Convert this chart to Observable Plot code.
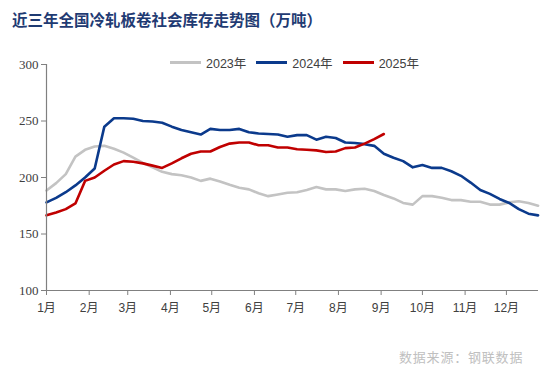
<!DOCTYPE html>
<html>
<head>
<meta charset="utf-8">
<script src="https://cdn.jsdelivr.net/npm/d3@7"></script>
<script src="https://cdn.jsdelivr.net/npm/@observablehq/plot@0.6"></script>
<style>
  body { margin: 0; background: #fff; }
  #wrap { position: relative; width: 550px; height: 370px; overflow: hidden; background: #fff; }
  #title { position: absolute; left: 12px; top: 10px; font-family: "Noto Sans CJK SC", sans-serif; font-weight: 700; font-size: 15.5px; line-height: 18px; color: #1f3b73; white-space: nowrap; }
  #legend { position: absolute; left: 170px; top: 53px; display: flex; align-items: center; font-family: "Liberation Sans", Arial, "Noto Sans CJK SC", sans-serif; font-size: 12.5px; color: #404040; white-space: nowrap; }
  .item { display: flex; align-items: center; margin-right: 10px; }
  .sw { width: 31px; height: 2.5px; margin-right: 5px; }
  #source { position: absolute; left: 399px; top: 347px; font-family: "Noto Sans CJK SC", sans-serif; font-size: 13px; color: #c0c0c0; white-space: nowrap; letter-spacing: 0.8px; }
  #chart { position: absolute; left: 0; top: 0; }
</style>
</head>
<body>
<div id="wrap">
  <div id="chart"></div>
  <div id="title">近三年全国冷轧板卷社会库存走势图（万吨）</div>
  <div id="legend"></div>
  <div id="source">数据来源：钢联数据</div>
</div>
<script>
const seriesNames = ["2023年", "2024年", "2025年"];
const seriesColors = ["#c3c3c3", "#0b3a8c", "#c00000"];

// weekly values (万吨), week 1 starting at the beginning of January
const v2023 = [188.5, 195, 203, 218.5, 224.5, 227.5, 228, 225.5, 222, 217.5, 213, 209, 205, 203,
  202, 200, 197, 199, 196.5, 193.5, 191, 189.5, 186, 183.5, 185, 186.5, 187, 189, 191.5, 189.5,
  189.5, 188, 189.5, 190, 188, 184.5, 181.5, 177.5, 176, 183.5, 183.5, 182, 180, 180, 178.5,
  178.5, 176, 176, 178, 179, 177.5, 175];
const v2024 = [178, 182, 187, 193, 200, 208, 245, 252.5, 252.5, 252, 250, 249.5, 248.5, 245,
  242, 240, 238, 243, 242, 242, 243, 240, 239, 238.5, 238, 236, 237.5, 237.5, 233.5, 236,
  235, 231, 230.5, 229.5, 228, 221, 217.5, 214.5, 209, 211, 208.5, 208.5, 205.5, 201.5, 195.5,
  189, 185.5, 181, 177.5, 172, 168, 166.5];
const v2025 = [166.5, 169, 172, 177, 197, 200, 206, 211.5, 214.5, 214, 212.5, 210.5, 208.5, 212.5,
  217, 221, 223, 223, 227, 230, 231, 231, 228.5, 228.5, 226.5, 226.5, 225, 224.5, 224, 222.5,
  223, 226, 226.5, 230, 234, 238.5];
const yTicks = [100, 150, 200, 250, 300];
const monthLabels = ["1月","2月","3月","4月","5月","6月","7月","8月","9月","10月","11月","12月"];

const DAY = 864e5;
const start = Date.UTC(2023, 0, 1);
const weekDate = i => new Date(start + i * 7 * DAY);
const rows = [];
[v2023, v2024, v2025].forEach((arr, s) =>
  arr.forEach((v, i) => rows.push({ series: seriesNames[s], date: weekDate(i), value: v })));

const monthTicks = d3.utcMonth.range(new Date(start), new Date(Date.UTC(2024, 0, 1)));
const xDomain = [new Date(start), new Date(start + 357.3 * DAY)];

const axisColor = "#808080";
const chart = Plot.plot({
  width: 550,
  height: 370,
  marginTop: 64,
  marginBottom: 80,
  marginLeft: 46,
  marginRight: 12,
  style: { background: "transparent", overflow: "visible" },
  x: { type: "utc", domain: xDomain },
  y: { domain: [100, 300] },
  color: { domain: seriesNames, range: seriesColors },
  marks: [
    Plot.line(rows, { x: "date", y: "value", stroke: "series", strokeWidth: 2.6, curve: "linear" }),
    Plot.ruleX([xDomain[0]], { y1: 100, y2: 300, stroke: axisColor, strokeWidth: 1.2 }),
    Plot.ruleY([100], { stroke: axisColor, strokeWidth: 1.2 }),
    Plot.axisY({ ticks: yTicks, tickSize: 5, tickPadding: 3, stroke: axisColor, fill: "#404040",
      fontSize: 13, fontFamily: "Liberation Serif, serif", label: null }),
    Plot.axisX({ ticks: monthTicks, tickFormat: d => monthLabels[d.getUTCMonth()], tickSize: 5,
      tickPadding: 8, stroke: axisColor, fill: "#404040", fontSize: 12,
      fontFamily: "Liberation Sans, Arial, Noto Sans CJK SC, sans-serif", label: null })
  ]
});
document.getElementById("chart").appendChild(chart);

const legend = document.getElementById("legend");
seriesNames.forEach((n, i) => {
  const it = document.createElement("div");
  it.className = "item";
  const sw = document.createElement("div");
  sw.className = "sw";
  sw.style.background = seriesColors[i];
  const t = document.createElement("span");
  t.textContent = n;
  it.appendChild(sw); it.appendChild(t);
  legend.appendChild(it);
});
</script>
</body>
</html>
